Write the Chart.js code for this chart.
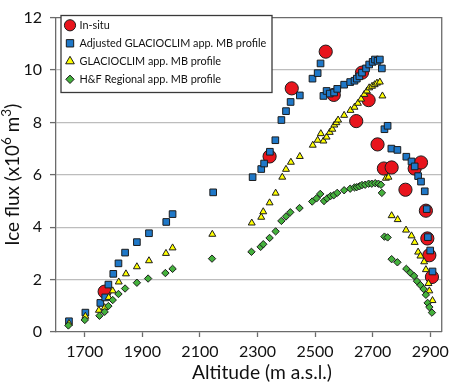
<!DOCTYPE html>
<html>
<head>
<meta charset="utf-8">
<script src="https://cdn.jsdelivr.net/npm/chart.js"></script>
<style>
    body { margin: 0; background: #fff; }
    #wrap { width: 454px; height: 384px; }
</style>
</head>
<body>
<div id="wrap"><canvas id="iceFluxChart" width="454" height="384"></canvas></div>
<script>
// values: altitude (m a.s.l.) and ice flux (x10^6 m3)
const inSituAlt = [1769, 2342, 2419, 2537, 2565, 2663, 2643, 2686, 2717, 2739, 2766, 2814, 2846, 2868, 2885, 2890, 2897, 2906];
const inSituFlux = [1.54, 6.70, 9.30, 10.70, 9.05, 9.90, 8.05, 8.85, 7.16, 6.24, 6.28, 5.43, 6.24, 6.47, 4.63, 3.57, 2.93, 2.10];

const adjustedAlt = [1645, 1702, 1754, 1771, 1782, 1799, 1817, 1840, 1881, 1923, 1983, 2005, 2146,
    2283, 2313, 2323, 2343, 2362, 2383, 2399, 2415, 2447, 2491, 2509, 2519, 2529, 2540, 2551, 2566,
    2577, 2601, 2622, 2637, 2645, 2654, 2663, 2677, 2688, 2700, 2708, 2717, 2725, 2732, 2741, 2752,
    2765, 2786, 2817, 2835, 2846, 2858, 2868, 2881, 2888, 2892, 2900, 2908];
const adjustedFlux = [0.41, 0.74, 1.11, 1.32, 1.81, 2.22, 2.62, 3.03, 3.43, 3.77, 4.20, 4.50, 5.33,
    5.91, 6.22, 6.43, 6.88, 7.32, 8.09, 8.43, 8.78, 9.03, 9.67, 9.88, 10.25, 9.01, 9.20, 9.10, 9.14,
    9.28, 9.44, 9.54, 9.59, 9.67, 9.76, 9.90, 10.06, 10.21, 10.31, 10.40, 10.35, 10.40, 10.06, 7.74, 7.87,
    7.00, 6.95, 6.69, 6.51, 6.32, 5.95, 5.74, 5.37, 4.69, 3.62, 3.11, 2.31];

const glacioclimAlt = [1645, 1702, 1749, 1769, 1783, 1797, 1818, 1843, 1881, 1923, 1982, 2005, 2143,
    2280, 2313, 2320, 2342, 2363, 2386, 2399, 2416, 2447, 2492, 2509, 2520, 2529, 2540, 2551, 2560,
    2567, 2574, 2580, 2601, 2623, 2637, 2649, 2660, 2671, 2680, 2688, 2698, 2707, 2715, 2725, 2734,
    2746, 2755, 2766, 2787, 2816, 2835, 2846, 2858, 2866, 2879, 2885, 2894, 2897, 2908];
const glacioclimFlux = [0.33, 0.60, 0.83, 0.93, 1.32, 1.57, 1.91, 2.22, 2.49, 2.72, 3.00, 3.21, 3.73,
    4.16, 4.38, 4.59, 4.93, 5.30, 5.91, 6.21, 6.48, 6.70, 7.13, 7.32, 7.57, 7.29, 7.44, 7.62, 7.74,
    7.90, 7.99, 8.09, 8.27, 8.46, 8.58, 8.73, 8.89, 9.07, 9.20, 9.32, 9.38, 9.44, 9.50, 9.54, 9.01,
    5.87, 5.91, 4.44, 4.29, 3.89, 3.67, 3.42, 3.05, 2.90, 2.68, 2.38, 1.85, 1.57, 1.20];

const regionalAlt = [1643, 1700, 1751, 1769, 1782, 1797, 1817, 1840, 1881, 1920, 1980, 2005, 2142,
    2279, 2311, 2320, 2342, 2363, 2383, 2399, 2414, 2446, 2490, 2505, 2518, 2531, 2542, 2554, 2565,
    2577, 2601, 2622, 2637, 2645, 2654, 2663, 2674, 2686, 2697, 2709, 2720, 2729, 2732, 2741, 2752,
    2766, 2786, 2817, 2831, 2844, 2854, 2866, 2877, 2885, 2891, 2897, 2906];
const regionalFlux = [0.25, 0.46, 0.62, 0.77, 0.99, 1.22, 1.45, 1.66, 1.88, 2.04, 2.25, 2.41, 2.80,
    3.06, 3.25, 3.35, 3.59, 3.84, 4.24, 4.41, 4.57, 4.73, 4.98, 5.10, 5.27, 5.00, 5.10, 5.19, 5.22,
    5.31, 5.41, 5.47, 5.52, 5.53, 5.56, 5.61, 5.62, 5.66, 5.66, 5.68, 5.66, 5.62, 5.31, 3.64, 3.61,
    2.78, 2.66, 2.41, 2.26, 2.14, 1.94, 1.79, 1.64, 1.42, 1.11, 0.95, 0.74];

const seriesLabels = ["In-situ", "Adjusted GLACIOCLIM app. MB profile", "GLACIOCLIM app. MB profile", "H&F Regional app. MB profile"];
const altitudeTicks = [1700, 1900, 2100, 2300, 2500, 2700, 2900];
const fluxTicks = [0, 2, 4, 6, 8, 10, 12];

const FONT = "Lato, 'Open Sans', sans-serif";
const AXIS_COLOR = "#6b6b6b";
const EDGE = "#1c1c1c";

function toPoints(xs, ys) {
    return xs.map((x, i) => ({ x: x, y: ys[i] }));
}

function fitFontSize(ctx, text, width) {
    ctx.font = "100px " + FONT;
    return 100 * width / ctx.measureText(text).width;
}

function drawMarker(ctx, ds, x, y) {
    const r = ds.pointRadius;
    ctx.fillStyle = ds.backgroundColor;
    ctx.strokeStyle = ds.borderColor;
    ctx.lineWidth = ds.borderWidth;
    ctx.beginPath();
    if (ds.pointStyle === "circle") {
        ctx.arc(x, y, r, 0, Math.PI * 2);
    } else if (ds.pointStyle === "rect") {
        const h = r * Math.SQRT1_2;
        ctx.rect(x - h, y - h, 2 * h, 2 * h);
    } else if (ds.pointStyle === "triangle") {
        ctx.moveTo(x, y - r);
        ctx.lineTo(x + r * 0.866, y + r * 0.5);
        ctx.lineTo(x - r * 0.866, y + r * 0.5);
        ctx.closePath();
    } else {
        ctx.moveTo(x, y - r);
        ctx.lineTo(x + r, y);
        ctx.lineTo(x, y + r);
        ctx.lineTo(x - r, y);
        ctx.closePath();
    }
    ctx.fill();
    ctx.stroke();
}

// frame, axis titles and the boxed legend inside the plot
const decorations = {
    id: "decorations",
    afterDraw(chart) {
        const ctx = chart.ctx;
        const area = chart.chartArea;
        ctx.save();

        ctx.strokeStyle = AXIS_COLOR;
        ctx.lineWidth = 1.3;
        ctx.beginPath();
        ctx.moveTo(area.left, area.top);
        ctx.lineTo(area.right, area.top);
        ctx.lineTo(area.right, area.bottom);
        ctx.stroke();

        // x title
        ctx.fillStyle = "#111";
        const xTitle = "Altitude (m a.s.l.)";
        ctx.font = fitFontSize(ctx, xTitle, 140) + "px " + FONT;
        ctx.textAlign = "center";
        ctx.textBaseline = "alphabetic";
        ctx.fillText(xTitle, 262, 379);

        // y title with superscripts
        const parts = [["Ice flux (x10", 0], ["6", 1], [" m", 0], ["3", 1], [")", 0]];
        const size = fitFontSize(ctx, "Ice flux (x10 m)", 126);
        const supSize = size * 0.72;
        let total = 0;
        parts.forEach(p => {
            ctx.font = (p[1] ? supSize : size) + "px " + FONT;
            total += ctx.measureText(p[0]).width;
        });
        ctx.translate(19, (area.top + area.bottom) / 2);
        ctx.rotate(-Math.PI / 2);
        ctx.textAlign = "left";
        let pos = -total / 2;
        parts.forEach(p => {
            ctx.font = (p[1] ? supSize : size) + "px " + FONT;
            ctx.fillText(p[0], pos, p[1] ? -size * 0.42 : 0);
            pos += ctx.measureText(p[0]).width;
        });
        ctx.setTransform(1, 0, 0, 1, 0, 0);

        // legend
        const box = { x: 61, y: 15.5, w: 211, h: 77 };
        ctx.fillStyle = "#fff";
        ctx.fillRect(box.x, box.y, box.w, box.h);
        ctx.strokeStyle = "#3a3a3a";
        ctx.lineWidth = 1.3;
        ctx.strokeRect(box.x, box.y, box.w, box.h);
        const legendSize = fitFontSize(ctx, seriesLabels[1], 187);
        ctx.font = legendSize + "px " + FONT;
        ctx.textBaseline = "middle";
        chart.data.datasets.forEach((ds, i) => {
            const cy = 25.3 + i * 18;
            const marker = Object.assign({}, ds, { pointRadius: ds.legendRadius });
            drawMarker(ctx, marker, 70, cy);
            ctx.fillStyle = "#111";
            ctx.fillText(ds.label, 79.5, cy + 0.5);
        });
        ctx.restore();
    }
};

const datasets = [
    {
        label: seriesLabels[0],
        data: toPoints(inSituAlt, inSituFlux),
        pointStyle: "circle", pointRadius: 6.6, legendRadius: 5.6,
        backgroundColor: "#e8141c", borderColor: EDGE, borderWidth: 1,
        order: 4,
    },
    {
        label: seriesLabels[1],
        data: toPoints(adjustedAlt, adjustedFlux),
        pointStyle: "rect", pointRadius: 4.7, legendRadius: 5.2,
        backgroundColor: "#1f78c8", borderColor: EDGE, borderWidth: 1,
        order: 3,
    },
    {
        label: seriesLabels[2],
        data: toPoints(glacioclimAlt, glacioclimFlux),
        pointStyle: "triangle", pointRadius: 4.0, legendRadius: 5.0,
        backgroundColor: "#ffff00", borderColor: EDGE, borderWidth: 1,
        order: 2,
    },
    {
        label: seriesLabels[3],
        data: toPoints(regionalAlt, regionalFlux),
        pointStyle: "rectRot", pointRadius: 3.7, legendRadius: 4.2,
        backgroundColor: "#44b13c", borderColor: EDGE, borderWidth: 1,
        order: 1,
    },
];

new Chart(document.getElementById("iceFluxChart"), {
    type: "scatter",
    data: { datasets: datasets },
    options: {
        responsive: false,
        animation: false,
        devicePixelRatio: 1,
        events: [],
        layout: { padding: { top: 8, right: 7, left: 0, bottom: 0 } },
        plugins: {
            legend: { display: false },
            tooltip: { enabled: false },
        },
        scales: {
            x: {
                type: "linear",
                min: 1600,
                max: 2940,
                afterBuildTicks: (scale) => { scale.ticks = altitudeTicks.map(v => ({ value: v })); },
                afterFit: (scale) => { scale.height = 52; },
                grid: { drawOnChartArea: false, tickLength: 5, tickColor: AXIS_COLOR, tickWidth: 1.3 },
                border: { color: AXIS_COLOR, width: 1.3 },
                ticks: {
                    font: { family: FONT, size: 16 }, color: "#111", padding: 5,
                    maxRotation: 0, autoSkip: false,
                    callback: (value) => String(value),
                },
            },
            y: {
                min: 0,
                max: 12,
                afterBuildTicks: (scale) => { scale.ticks = fluxTicks.map(v => ({ value: v })); },
                afterFit: (scale) => { scale.width = 56; },
                grid: {
                    color: (c) => (c.tick && c.tick.value > 0 && c.tick.value < 12) ? "#bdbdbd" : "rgba(0,0,0,0)",
                    lineWidth: 1.2,
                    tickLength: 6,
                    tickColor: AXIS_COLOR,
                    tickWidth: 1.3,
                },
                border: { color: AXIS_COLOR, width: 1.3 },
                ticks: {
                    font: { family: FONT, size: 16 }, color: "#111", padding: 8,
                    callback: (value) => String(value),
                },
            },
        },
    },
    plugins: [decorations],
});
</script>
</body>
</html>
